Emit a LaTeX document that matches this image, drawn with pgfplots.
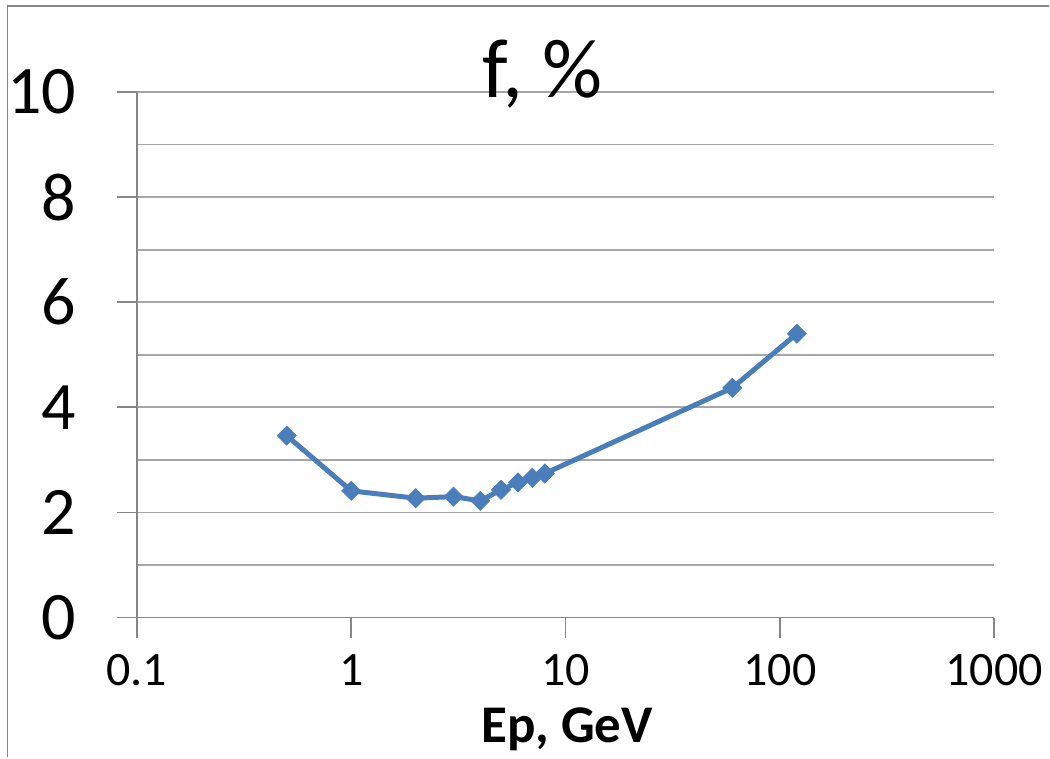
\documentclass[border=0pt]{standalone}
\usepackage{pgfplots}
\pgfplotsset{compat=1.18}
\usepackage{fontspec}
\setmainfont{Carlito}
\definecolor{ser}{HTML}{4A7EBB}
\definecolor{gridc}{HTML}{A6A6A6}
\definecolor{axc}{HTML}{868686}
\begin{document}
\begin{tikzpicture}
\begin{axis}[
  name=ax,
  scale only axis, width=429pt, height=263pt,
  xmode=log, xmin=0.1, xmax=1000, ymin=0, ymax=10,
  axis x line*=bottom, axis y line*=left,
  axis line style={axc, line width=0.8pt, -},
  xtick={0.1,1,10,100,1000}, xticklabels={0.1,1,10,100,1000},
  ytick={0,2,4,6,8,10}, yticklabels={0,2,4,6,8,10},
  minor ytick={1,3,5,7,9}, xminorticks=false,
  ymajorgrids, yminorgrids,
  major grid style={gridc, line width=0.9pt},
  minor grid style={gridc, line width=0.9pt},
  tick align=outside, major tick length=10pt, minor tick length=0pt,
  tick style={axc, line width=0.8pt},
  xticklabel style={font=\fontsize{24}{28}\selectfont, anchor=north, yshift=-5pt},
  yticklabel style={font=\fontsize{34}{38}\selectfont, anchor=east, xshift=-17pt},
  clip=false,
]
\addplot[color=ser, line width=2.5pt, mark=square*, mark size=3.4pt, mark options={fill=ser, draw=ser, line width=0.3pt, rotate=45}]
coordinates {
(0.5,3.46) (1,2.41) (2,2.27) (3,2.30) (4,2.22) (5,2.43) (6,2.57) (7,2.66) (8,2.74) (60,4.37) (120,5.40)
};
\node[anchor=base, font=\fontsize{42}{46}\selectfont] at (rel axis cs:0.4732,0.99) {f, \%};
\end{axis}
\node[anchor=base, font=\bfseries\fontsize{26.5}{30}\selectfont] at ([xshift=0.75pt,yshift=-62.5pt]ax.south) {Ep, GeV};
\draw[axc, line width=0.8pt] ([xshift=-64.75pt,yshift=-70pt]ax.south west) -- ([xshift=-64.75pt,yshift=43pt]ax.north west) -- ([xshift=27.5pt,yshift=43pt]ax.north east);
\path ([xshift=-68.5pt,yshift=-70pt]ax.south west) rectangle ([xshift=27.5pt,yshift=46pt]ax.north east);
\end{tikzpicture}
\end{document}
